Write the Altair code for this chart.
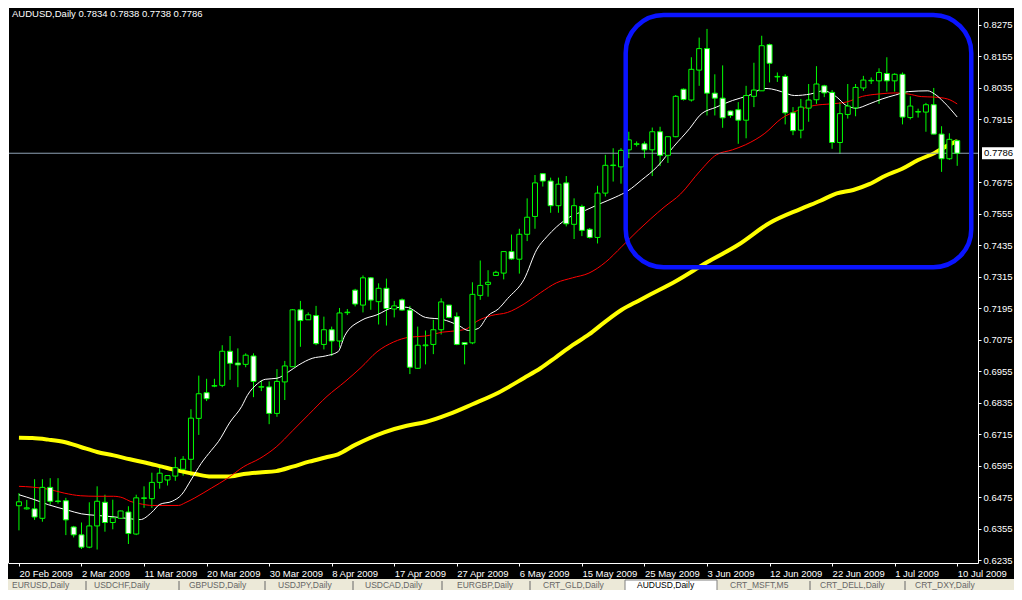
import altair as alt
import pandas as pd

# ---------------- data (AUDUSD daily, 20 Feb 2009 - 10 Jul 2009, incl. Sunday bars) ----------------
opens = [0.6442,0.6430,0.6430,0.6394,0.6512,0.6460,0.6461,0.6361,0.6331,0.6284,
         0.6365,0.6455,0.6378,0.6394,0.6418,0.6334,0.6470,0.6469,0.6531,0.6540,
         0.6555,0.6581,0.6619,0.6775,0.6873,0.6898,0.6901,0.7031,0.6986,0.6981,
         0.7013,0.6894,0.6895,0.6794,0.6914,0.6972,0.7189,0.7151,0.7167,0.7057,
         0.7113,0.7070,0.7178,0.7264,0.7207,0.7311,0.7220,0.7271,0.7192,0.7227,
         0.7188,0.6966,0.7052,0.7057,0.7113,0.7207,0.7163,0.7064,0.7063,0.7244,
         0.7286,0.7320,0.7329,0.7411,0.7382,0.7477,0.7545,0.7708,0.7680,0.7586,
         0.7673,0.7515,0.7583,0.7496,0.7465,0.7634,0.7739,0.7734,0.7799,0.7820,
         0.7822,0.7799,0.7868,0.7778,0.7849,0.8030,0.7989,0.8103,0.8185,0.8015,
         0.7996,0.7947,0.7952,0.7912,0.8003,0.8024,0.8200,0.8077,0.8079,0.7940,
         0.7874,0.7958,0.7990,0.8043,0.8018,0.7827,0.7934,0.7959,0.8035,0.8062,
         0.8062,0.8090,0.8062,0.8087,0.7922,0.7943,0.7943,0.7971,0.7859,0.7765,
         0.7834]
highs = [0.6490,0.6464,0.6543,0.6543,0.6547,0.6547,0.6472,0.6365,0.6378,0.6455,
         0.6516,0.6484,0.6465,0.6423,0.6440,0.6484,0.6516,0.6568,0.6599,0.6557,
         0.6628,0.6631,0.6810,0.6938,0.6926,0.6926,0.7054,0.7089,0.7042,0.7023,
         0.7023,0.6920,0.6916,0.6963,0.6994,0.7192,0.7223,0.7179,0.7204,0.7163,
         0.7125,0.7196,0.7192,0.7269,0.7320,0.7314,0.7290,0.7308,0.7223,0.7232,
         0.7204,0.7125,0.7110,0.7151,0.7233,0.7207,0.7179,0.7064,0.7294,0.7377,
         0.7340,0.7338,0.7411,0.7476,0.7498,0.7614,0.7703,0.7708,0.7693,0.7693,
         0.7699,0.7614,0.7590,0.7501,0.7662,0.7780,0.7805,0.7805,0.7868,0.7831,
         0.7831,0.7884,0.7887,0.7849,0.8008,0.8033,0.8152,0.8227,0.8260,0.8087,
         0.8121,0.7949,0.7981,0.8043,0.8131,0.8234,0.8204,0.8094,0.8087,0.7962,
         0.7993,0.8050,0.8118,0.8047,0.8027,0.7981,0.8050,0.8050,0.8081,0.8075,
         0.8110,0.8152,0.8091,0.8094,0.8003,0.7956,0.7978,0.8035,0.7889,0.7862,
         0.7838]
lows = [0.6348,0.6427,0.6388,0.6381,0.6446,0.6450,0.6330,0.6321,0.6277,0.6280,
        0.6275,0.6343,0.6352,0.6393,0.6296,0.6330,0.6434,0.6434,0.6507,0.6519,
        0.6537,0.6557,0.6555,0.6712,0.6841,0.6894,0.6894,0.6922,0.6894,0.6970,
        0.6856,0.6879,0.6753,0.6781,0.6845,0.6972,0.7048,0.7151,0.7054,0.7038,
        0.7013,0.7045,0.7169,0.7202,0.7179,0.7189,0.7133,0.7129,0.7160,0.7185,
        0.6944,0.6964,0.6981,0.7020,0.7095,0.7157,0.7054,0.6981,0.7058,0.7227,
        0.7239,0.7320,0.7305,0.7380,0.7327,0.7451,0.7498,0.7659,0.7559,0.7559,
        0.7507,0.7459,0.7470,0.7461,0.7442,0.7621,0.7678,0.7670,0.7767,0.7812,
        0.7768,0.7699,0.7737,0.7749,0.7847,0.7987,0.7983,0.8043,0.7930,0.7930,
        0.7883,0.7921,0.7822,0.7843,0.7962,0.8024,0.8056,0.8058,0.7896,0.7855,
        0.7843,0.7906,0.7974,0.8000,0.7803,0.7783,0.7918,0.7927,0.8024,0.8050,
        0.7974,0.8021,0.8021,0.7896,0.7915,0.7922,0.7868,0.7858,0.7715,0.7761,
        0.7738]
closes = [0.6457,0.6434,0.6399,0.6512,0.6459,0.6458,0.6388,0.6331,0.6284,0.6365,
          0.6459,0.6378,0.6396,0.6422,0.6336,0.6472,0.6472,0.6531,0.6566,0.6557,
          0.6587,0.6619,0.6776,0.6869,0.6850,0.6900,0.7031,0.6985,0.6979,0.7016,
          0.6916,0.6896,0.6794,0.6916,0.6975,0.7189,0.7148,0.7170,0.7060,0.7113,
          0.7070,0.7177,0.7180,0.7211,0.7311,0.7226,0.7271,0.7194,0.7204,0.7188,
          0.6970,0.7054,0.7055,0.7113,0.7219,0.7160,0.7057,0.7057,0.7248,0.7282,
          0.7294,0.7332,0.7411,0.7383,0.7477,0.7542,0.7673,0.7680,0.7586,0.7668,
          0.7517,0.7586,0.7492,0.7465,0.7634,0.7740,0.7741,0.7797,0.7837,0.7822,
          0.7799,0.7868,0.7778,0.7849,0.8003,0.7991,0.8106,0.8185,0.8015,0.7996,
          0.7921,0.7930,0.7912,0.8006,0.8027,0.8196,0.8129,0.8079,0.7940,0.7872,
          0.7962,0.7989,0.8050,0.8016,0.7827,0.7937,0.7966,0.8037,0.8065,0.8064,
          0.8094,0.8062,0.8087,0.7924,0.7966,0.7945,0.7971,0.7859,0.7765,0.7839,
          0.7786]

# moving averages (bar index, price)
fast_bars = [0,2,3.75,6.25,8,10,12,14,15.5,17,18,19.6,20.8,22,23.3,24.6,25.5,27,28.5,29.2,
             30.5,31.5,33,34.5,35.8,37.5,39.2,40.8,41.7,43.75,45.8,47.9,49.5,52,54.2,56.25,57.5,
             58.75,60,61.3,62.5,64.6,66.25,67.5,68.75,70.4,72.5,74.2,76.25,77.9,79.6,81.7,83.75,
             85.8,87.1,89.2,91.25,93.3,95.4,96.25,97.5,99.2,101.25,102.9,104.6,105.8,107.1,
             108.75,110.4,112.1,113.75,116.25,117.1,118.3,120]
fast_vals = [0.6484,0.6465,0.6446,0.6425,0.6411,0.6405,0.6400,0.6393,0.6389,0.6417,0.6447,0.6459,
             0.6484,0.6540,0.6603,0.6653,0.6686,0.6761,0.6821,0.6862,0.6907,0.6924,0.6928,0.6953,
             0.6979,0.7004,0.7013,0.7029,0.7092,0.7148,0.7170,0.7197,0.7199,0.7160,0.7152,0.7129,
             0.7110,0.7118,0.7167,0.7192,0.7232,0.7305,0.7420,0.7467,0.7505,0.7542,0.7569,0.7592,
             0.7618,0.7643,0.7683,0.7737,0.7812,0.7881,0.7931,0.7962,0.7987,0.8006,0.8033,0.8031,
             0.8021,0.8006,0.8012,0.8024,0.8000,0.7968,0.7958,0.7974,0.7993,0.8008,0.8021,0.8024,
             0.8012,0.7981,0.7924]
mid_bars = [0,1.7,3.75,5.8,7.9,10,12.1,13.3,14.2,15.4,17.1,20.4,21.25,22.5,24.6,26.7,28.75,30.8,
            32.9,35,37.1,39.4,41.7,43.75,45.8,47.9,50,52,54.2,56.25,57.3,58.5,60.4,62.5,64.6,66.7,
            68.75,70.8,72.9,75,77.1,79.2,80.8,82.5,84.6,87.1,89.2,91.25,92.9,95.4,97.5,99.6,101.7,
            103.75,105.8,107.9,110,112.1,113.75,115.4,117.1,118.75,120]
mid_vals = [0.6516,0.6513,0.6505,0.6490,0.6480,0.6478,0.6478,0.6472,0.6459,0.6450,0.6443,0.6443,
            0.6453,0.6472,0.6509,0.6547,0.6591,0.6622,0.6666,0.6728,0.6791,0.6859,0.6915,0.6969,
            0.7029,0.7066,0.7085,0.7089,0.7104,0.7110,0.7117,0.7144,0.7167,0.7179,0.7211,0.7254,
            0.7292,0.7311,0.7329,0.7370,0.7430,0.7492,0.7536,0.7580,0.7630,0.7718,0.7780,0.7799,
            0.7818,0.7862,0.7918,0.7949,0.7968,0.7974,0.7981,0.8003,0.8012,0.8016,0.8012,0.8002,
            0.8000,0.7993,0.7974]
slow_bars = [0,1.7,3.75,5.8,7.9,10,12.1,14.2,16.25,18.3,20.4,22.5,24.6,26.7,28.75,30.8,32.9,35,
             37.1,39.2,40.8,43,46.7,49.6,52,55,58,61.3,64.6,66.7,68.75,70.8,72.9,75,77.1,79.2,
             80.8,84,88,92,96,100,102.5,104.6,106.7,108.75,110.8,112.9,115,117.1,118.75,120]
slow_vals = [0.6701,0.6700,0.6694,0.6685,0.6666,0.6647,0.6634,0.6619,0.6606,0.6591,0.6576,0.6563,
             0.6553,0.6553,0.6563,0.6569,0.6574,0.6591,0.6610,0.6626,0.6638,0.6674,0.6722,0.6747,
             0.6761,0.6791,0.6829,0.6873,0.6929,0.6966,0.7010,0.7054,0.7095,0.7144,0.7189,0.7223,
             0.7248,0.7298,0.7370,0.7437,0.7520,0.7574,0.7605,0.7633,0.7646,0.7668,0.7700,0.7726,
             0.7760,0.7787,0.7815,0.7832]

date_labels = ["20 Feb 2009", "2 Mar 2009", "11 Mar 2009", "20 Mar 2009", "30 Mar 2009",
               "8 Apr 2009", "17 Apr 2009", "27 Apr 2009", "6 May 2009", "15 May 2009",
               "25 May 2009", "3 Jun 2009", "12 Jun 2009", "22 Jun 2009", "1 Jul 2009",
               "10 Jul 2009"]
date_ticks = [0, 8, 16, 24, 32, 40, 48, 56, 64, 72, 80, 88, 96, 104, 112, 120]
price_ticks = [0.6235, 0.6355, 0.6475, 0.6595, 0.6715, 0.6835, 0.6955, 0.7075, 0.7195,
               0.7315, 0.7435, 0.7555, 0.7675, 0.7915, 0.8035, 0.8155, 0.8275]
last_price = 0.7786
title_text = "AUDUSD,Daily  0.7834 0.7838 0.7738 0.7786"
box_bars = [77.6, 121.8]
box_prices = [0.7351, 0.8313]
tabs = ["EURUSD,Daily", "USDCHF,Daily", "GBPUSD,Daily", "USDJPY,Daily", "USDCAD,Daily",
        "EURGBP,Daily", "CRT_GLD,Daily", "AUDUSD,Daily", "CRT_MSFT,M5", "CRT_DELL,Daily",
        "CRT_DXY,Daily"]

# ---------------- layout / style ----------------
W, H = 970, 555
PAD_R = 36            # total canvas width 1006 = page width minus margins
X_DOM = [-0.76, 122.02]
Y_DOM = [0.62236, 0.83398]
FONT = "Liberation Sans"
FS = 9.5
GREEN = "#00ff00"
px_per_price = H / (Y_DOM[1] - Y_DOM[0])

xs = alt.Scale(domain=X_DOM, nice=False, zero=False)
ys = alt.Scale(domain=Y_DOM, nice=False, zero=False)

label_expr = "[" + ",".join("'%s'" % s for s in date_labels) + "][round(datum.value / 8)]"
x_axis = alt.Axis(values=date_ticks, labelExpr=label_expr, labelAlign="left",
                  labelColor="white", labelFont=FONT, labelFontSize=FS, labelPadding=2,
                  tickColor="white", tickSize=3, domainColor="white", grid=False, title=None,
                  labelOverlap=False, labelFlush=False, labelBound=False)
y_axis = alt.Axis(orient="right", values=price_ticks, format=".4f", labelColor="white",
                  labelFont=FONT, labelFontSize=FS, labelPadding=2, tickColor="white",
                  tickSize=3, domainColor="white", grid=False, title=None,
                  labelOverlap=False, labelFlush=False, labelBound=False)


def X(field):
    return alt.X(field, scale=xs, axis=x_axis, title=None)


def Y(field):
    return alt.Y(field, scale=ys, axis=y_axis, title=None)


one = pd.DataFrame({"a": [0]})
df = pd.DataFrame({"i": list(range(len(opens))), "o": opens, "h": highs, "l": lows, "c": closes})

wick = alt.Chart(df).mark_rule(color=GREEN, strokeWidth=1, clip=True).encode(
    x=X("i:Q"), y=Y("l:Q"), y2="h:Q")
body = alt.Chart(df).mark_bar(size=5, stroke=GREEN, strokeWidth=1, clip=True).encode(
    x=X("i:Q"), y=Y("o:Q"), y2="c:Q",
    fill=alt.condition("datum.c < datum.o", alt.value("#ffffff"), alt.value("#000000")))


def ma_line(bars, vals, color, width):
    d = pd.DataFrame({"i": bars, "v": vals})
    return alt.Chart(d).mark_line(color=color, strokeWidth=width, clip=True,
                                  interpolate="monotone").encode(
        x=X("i:Q"), y=Y("v:Q"), order="i:Q")


slow = ma_line(slow_bars, slow_vals, "#ffff00", 4)
mid = ma_line(mid_bars, mid_vals, "#ff0000", 1)
fast = ma_line(fast_bars, fast_vals, "#ffffff", 1)

pline = alt.Chart(pd.DataFrame({"v": [last_price]})).mark_rule(
    color="#8fa2b5", strokeWidth=1).encode(y=Y("v:Q"))

box = alt.Chart(one).mark_rect(
    cornerRadius=38, fillOpacity=0, stroke="#0a14ff", strokeWidth=4.5, clip=False).encode(
    x=alt.XDatum(box_bars[0], scale=xs, axis=x_axis), x2=alt.X2Datum(box_bars[1]),
    y=alt.YDatum(box_prices[1], scale=ys, axis=y_axis), y2=alt.Y2Datum(box_prices[0]))

left_border = alt.Chart(one).mark_rule(color="white", strokeWidth=1).encode(
    x=alt.value(0.5), y=alt.value(0), y2=alt.value(H))

half = 6 / px_per_price
price_rect = alt.Chart(one).mark_rect(color="white", clip=False).encode(
    x=alt.value(W + 4), x2=alt.value(W + PAD_R),
    y=alt.YDatum(last_price + half, scale=ys, axis=y_axis), y2=alt.Y2Datum(last_price - half))
price_text = alt.Chart(one).mark_text(
    align="left", baseline="middle", color="black", font=FONT, fontSize=FS, clip=False).encode(
    x=alt.value(W + 6), y=alt.YDatum(last_price, scale=ys, axis=y_axis),
    text=alt.value("%.4f" % last_price))

title = alt.Chart(one).mark_text(
    align="left", baseline="middle", color="white", font=FONT, fontSize=FS, clip=False).encode(
    x=alt.value(4), y=alt.value(6), text=alt.value(title_text))

# tab bar at the bottom
TAB_TOP = 571
tab_bar = alt.Chart(one).mark_rect(color="#ece9d8", clip=False).encode(
    x=alt.value(0), x2=alt.value(W + PAD_R), y=alt.value(TAB_TOP), y2=alt.value(600))
active_tab = alt.Chart(one).mark_rect(
    color="#ffffff", stroke="#808080", strokeWidth=1, clip=False).encode(
    x=alt.value(617), x2=alt.value(709), y=alt.value(TAB_TOP + 1), y2=alt.value(600))
tab_x = [4, 86, 181, 270, 357, 449, 535, 629, 722, 812, 907]
sep_x = [78, 171, 257, 345, 434, 522, 802, 897]
tab_layers = []
for name, tx in zip(tabs, tab_x):
    tab_layers.append(alt.Chart(one).mark_text(
        align="left", baseline="middle", color="#000000" if name == "AUDUSD,Daily" else "#666666",
        font=FONT, fontSize=8.5, clip=False).encode(
        x=alt.value(tx), y=alt.value(TAB_TOP + 6), text=alt.value(name)))
for sx in sep_x:
    tab_layers.append(alt.Chart(one).mark_rule(
        color="#666666", strokeWidth=1).encode(
        x=alt.value(sx), y=alt.value(TAB_TOP + 2), y2=alt.value(600)))

chart = alt.layer(
    wick, slow, mid, fast, pline, body, box, left_border, price_rect, price_text, title,
    tab_bar, active_tab, *tab_layers
).properties(
    width=W, height=H, background="#000000",
    autosize=alt.AutoSizeParams(type="none"),
    padding={"left": 0, "top": 0, "right": PAD_R, "bottom": 27},
).configure_view(stroke=None)

chart.save("out.html", embed_options={"renderer": "svg", "actions": False})
